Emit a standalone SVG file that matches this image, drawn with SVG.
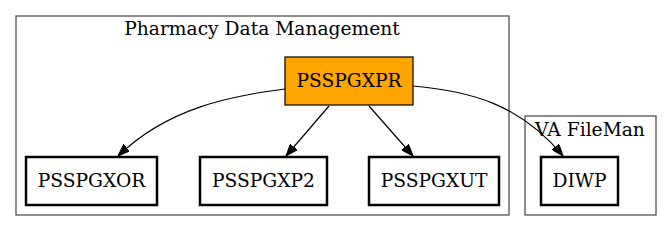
<svg xmlns="http://www.w3.org/2000/svg" width="672" height="232" viewBox="0 0 672 232">
<style>
.cluster{fill:none;stroke:#555;stroke-width:1.33}
.node{fill:#fff;stroke:#000;stroke-width:2.5}
.main{fill:#ffa500;stroke:#000;stroke-width:1.2}
text{font-family:"DejaVu Serif","Liberation Serif",serif;font-size:18.67px;fill:#000;text-anchor:middle}
.edge{fill:none;stroke:#000;stroke-width:1.2}
</style>
<defs>
<marker id="ah" viewBox="0 0 12 9" refX="12" refY="4.5" markerWidth="12" markerHeight="9" markerUnits="userSpaceOnUse" orient="auto">
<path d="M0,0 L12,4.5 L0,9 Z" fill="#000" stroke="#000"/>
</marker>
</defs>
<rect fill="#fff" x="0" y="0" width="672" height="232"/>
<g id="cluster_pdm">
<rect class="cluster" x="16" y="16" width="493" height="199"/>
<text x="262" y="35">Pharmacy Data Management</text>
</g>
<g id="cluster_fm">
<rect class="cluster" x="525" y="116" width="131" height="99"/>
<text x="590" y="136">VA FileMan</text>
</g>
<g id="edges">
<path class="edge" marker-end="url(#ah)" d="M285,89 C230,96 168,108 118,156"/>
<path class="edge" marker-end="url(#ah)" d="M329,106 L286,156"/>
<path class="edge" marker-end="url(#ah)" d="M369,106 L413,156"/>
<path class="edge" marker-end="url(#ah)" d="M413,86 C470,91 520,104 563,156"/>
</g>
<g id="PSSPGXPR">
<rect class="main" x="285" y="57" width="128" height="48"/>
<text x="349" y="87">PSSPGXPR</text>
</g>
<g id="PSSPGXOR">
<rect class="node" x="26" y="157" width="131" height="48"/>
<text x="91.5" y="187">PSSPGXOR</text>
</g>
<g id="PSSPGXP2">
<rect class="node" x="200" y="157" width="127" height="48"/>
<text x="263.5" y="187">PSSPGXP2</text>
</g>
<g id="PSSPGXUT">
<rect class="node" x="369" y="157" width="130" height="48"/>
<text x="434" y="187">PSSPGXUT</text>
</g>
<g id="DIWP">
<rect class="node" x="541" y="157" width="77" height="48"/>
<text x="579.5" y="187">DIWP</text>
</g>
</svg>
